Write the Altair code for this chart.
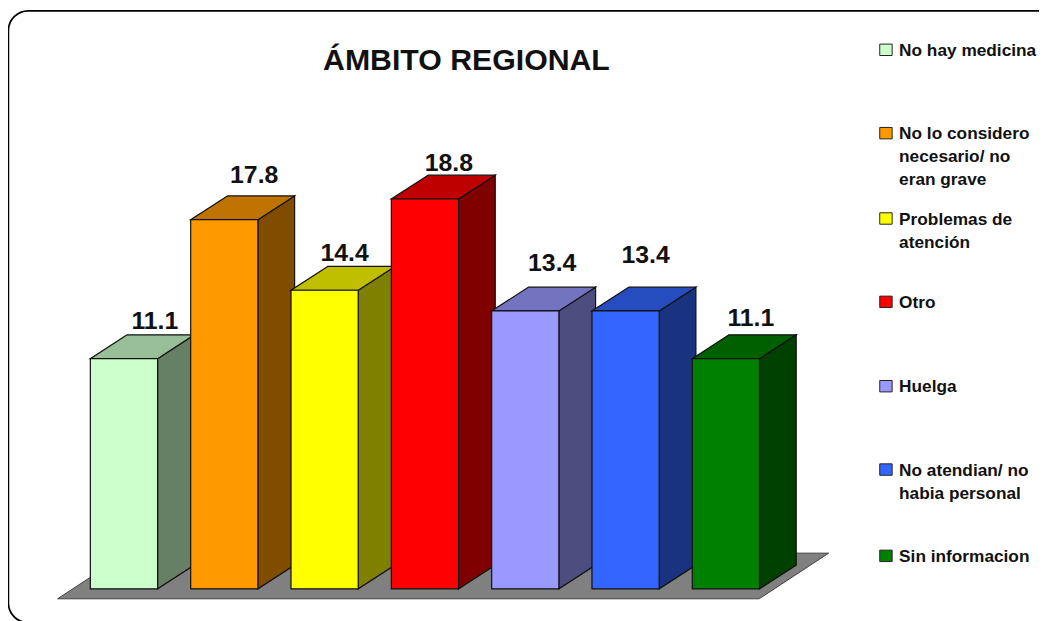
import altair as alt
import pandas as pd

FONT = "Liberation Sans"
W, H = 1039, 613

categories = ["No hay medicina", "No lo considero necesario", "Problemas de atención", "Otro",
              "Huelga", "No atendian", "Sin informacion"]
values = [11.1, 17.8, 14.4, 18.8, 13.4, 13.4, 11.1]
front_colors = ["#CCFFCC", "#FF9900", "#FFFF00", "#FF0000", "#9999FF", "#3366FF", "#008000"]
top_colors = ["#99BF99", "#BF7300", "#BFBF00", "#BF0000", "#7373BF", "#264DBF", "#006000"]
side_colors = ["#668066", "#804D00", "#808000", "#800000", "#4D4D80", "#1A3380", "#004000"]
legend_labels = ["No hay medicina", "No lo considero\nnecesario/ no\neran grave", "Problemas de\natención",
                 "Otro", "Huelga", "No atendian/ no\nhabia personal", "Sin informacion"]

# layout (page pixels)
legend_y = [48, 132, 218, 302, 387, 471, 558]
label_dx = [65, 64, 54, 58, 61, 54, 59]
label_dy = [38, 44.5, 37, 36, 48, 56, 41]

# scales: one category step = 101.1 px, one value unit = 20.9 px
X0, STEP, Y0, UNIT = 91 - 8, 101.1, 591 - 8, 20.9
BAR_W = 0.67
DX, DY = 37 / STEP, 24 / UNIT
xs = alt.Scale(domain=[-X0 / STEP, (W - X0) / STEP], range=[0, W], nice=False, zero=False)
ys = alt.Scale(domain=[(Y0 - H) / UNIT, Y0 / UNIT], range=[H, 0], nice=False, zero=False)


def ux(px):
    return (px - 8 - X0) / STEP


def uy(py):
    return (Y0 - (py - 8)) / UNIT


X = lambda f: alt.X(f, type="quantitative", scale=xs, axis=None)
Y = lambda f: alt.Y(f, type="quantitative", scale=ys, axis=None)

frame = alt.Chart(pd.DataFrame({"a": [1]})).mark_rect(
    fill="white", stroke="black", strokeWidth=1.7, cornerRadius=20
).encode(x=alt.value(0.4), x2=alt.value(1100), y=alt.value(0.5), y2=alt.value(617))

floor_df = pd.DataFrame([
    {"y": uy(601), "x": ux(58), "x2": ux(765)},
    {"y": uy(555), "x": ux(128), "x2": ux(835)},
])
floor = alt.Chart(floor_df).mark_area(orient="horizontal", fill="#808080", stroke="#404040", strokeWidth=1).encode(
    y=Y("y"), x=X("x"), x2="x2")

side_rows, top_rows, front_rows = [], [], []
for i, v in enumerate(values):
    r = i + BAR_W
    side_rows += [{"b": i, "x": r, "y": v, "y2": 0, "c": side_colors[i]},
                  {"b": i, "x": r + DX, "y": v + DY, "y2": DY, "c": side_colors[i]}]
    top_rows += [{"b": i, "y": v, "x": i, "x2": r, "c": top_colors[i]},
                 {"b": i, "y": v + DY, "x": i + DX, "x2": r + DX, "c": top_colors[i]}]
    front_rows.append({"x": i, "x2": r, "y": v, "y2": 0, "c": front_colors[i]})

edge = dict(stroke="#111111", strokeWidth=1.2)
sides = alt.Chart(pd.DataFrame(side_rows)).mark_area(**edge).encode(
    x=X("x"), y=Y("y"), y2="y2", detail="b:N", fill=alt.Fill("c:N", scale=None))
tops = alt.Chart(pd.DataFrame(top_rows)).mark_area(orient="horizontal", **edge).encode(
    y=Y("y"), x=X("x"), x2="x2", detail="b:N", fill=alt.Fill("c:N", scale=None))
fronts = alt.Chart(pd.DataFrame(front_rows)).mark_rect(**edge).encode(
    x=X("x"), x2="x2", y=Y("y"), y2="y2", fill=alt.Fill("c:N", scale=None))

label_df = pd.DataFrame({
    "x": [i + dx / STEP for i, dx in enumerate(label_dx)],
    "y": [v + dy / UNIT for v, dy in zip(values, label_dy)],
    "t": [f"{v:.1f}" for v in values],
})
labels = alt.Chart(label_df).mark_text(font=FONT, fontWeight="bold", fontSize=25, color="#111111").encode(
    x=X("x"), y=Y("y"), text="t:N")

title_df = pd.DataFrame({"x": [ux(470)], "y": [uy(59)], "t": ["ÁMBITO REGIONAL"]})
title = alt.Chart(title_df).mark_text(font=FONT, fontWeight="bold", fontSize=30.5, color="#111111").encode(
    x=X("x"), y=Y("y"), text="t:N")

swatch_df = pd.DataFrame({
    "x": [ux(886.5)] * 7, "x2": [ux(899)] * 7,
    "y": [uy(p - 6) for p in legend_y], "y2": [uy(p + 5.5) for p in legend_y],
    "c": front_colors,
})
swatches = alt.Chart(swatch_df).mark_rect(stroke="#222222", strokeWidth=1).encode(
    x=X("x"), x2="x2", y=Y("y"), y2="y2", fill=alt.Fill("c:N", scale=None))

legend_df = pd.DataFrame({"x": [ux(906)] * 7, "y": [uy(p + 6) for p in legend_y], "t": legend_labels})
legend = alt.Chart(legend_df).mark_text(
    font=FONT, fontWeight="bold", fontSize=17.4, color="#111111", align="left", baseline="alphabetic",
    lineBreak="\n", lineHeight=23
).encode(x=X("x"), y=Y("y"), text="t:N")

chart = alt.layer(frame, floor, sides, tops, fronts, labels, title, swatches, legend).properties(
    width=W, height=H, padding=0, autosize=alt.AutoSizeParams(type="none"), background="white"
).configure_view(stroke=None)

chart.save("out.html", embed_options={"renderer": "svg", "actions": False})
